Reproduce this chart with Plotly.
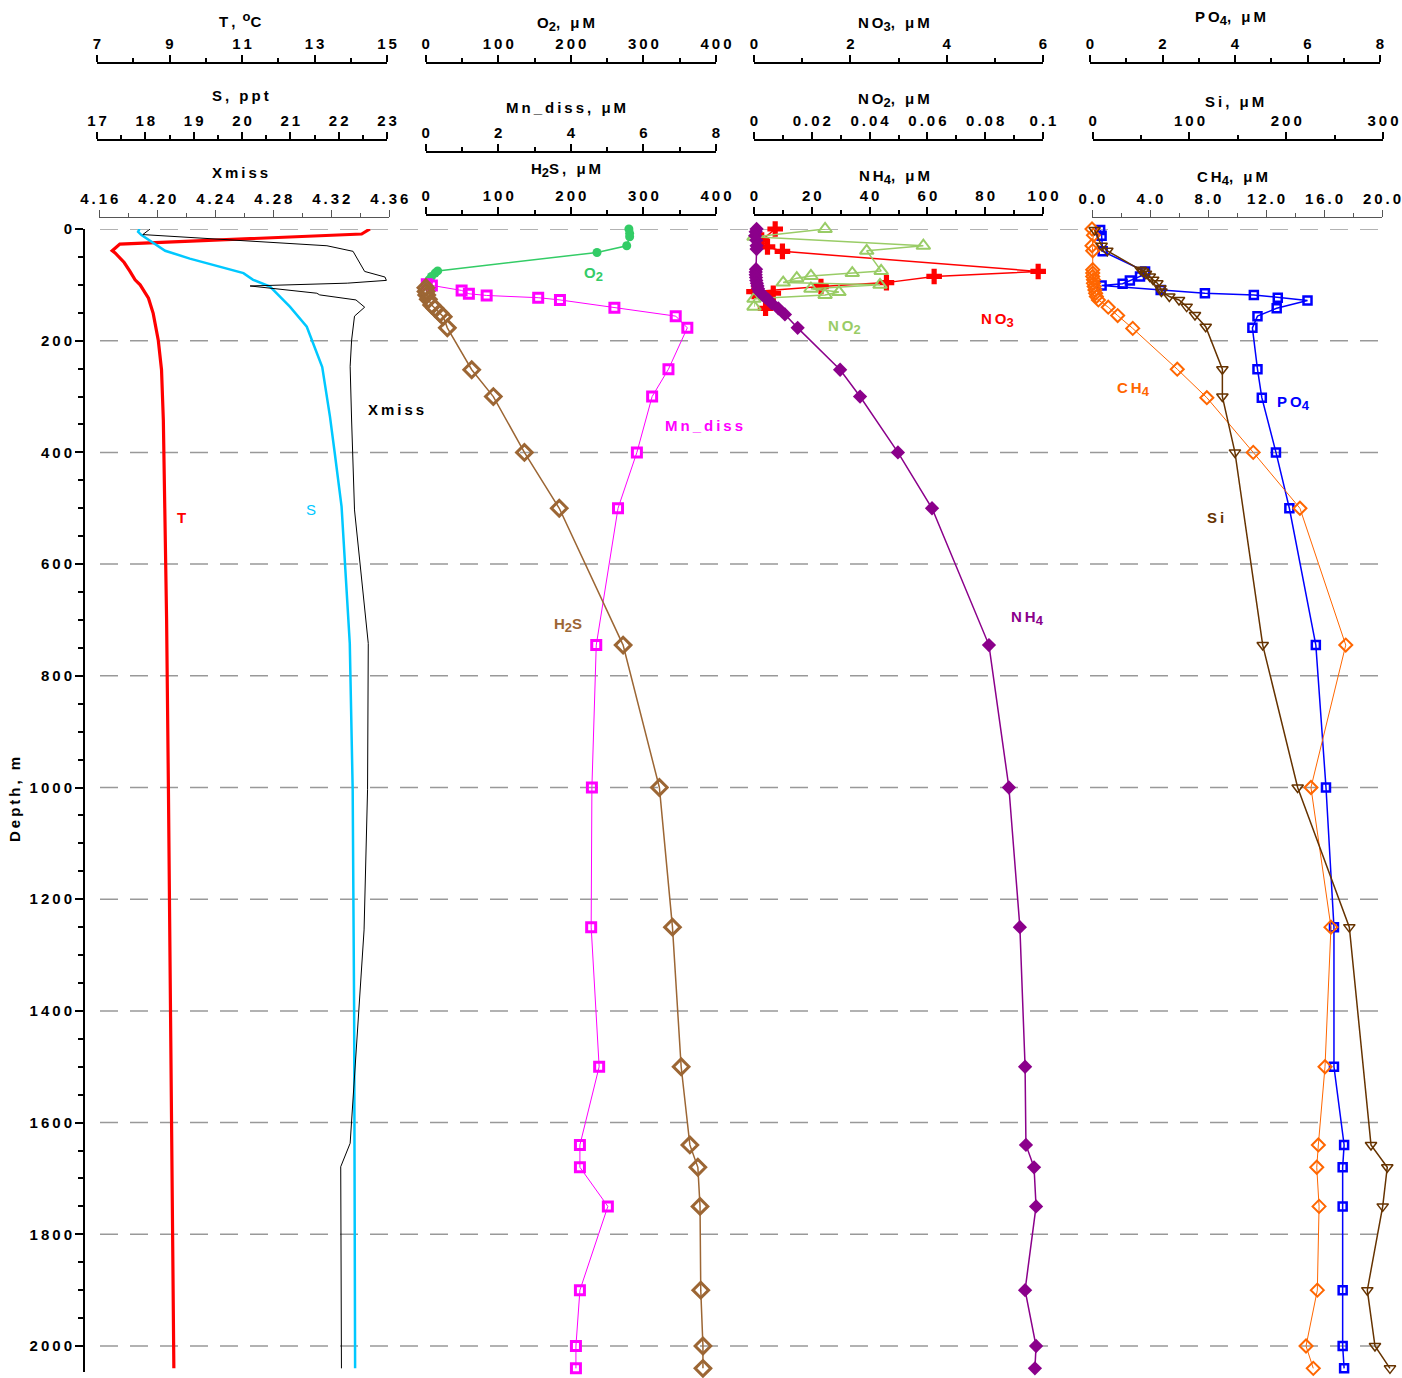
import plotly.graph_objects as go

# ------------------------- DATA -------------------------
T_depth = [0, 9, 27, 39, 43, 60, 76, 91, 100, 124, 151, 199, 252, 342, 500, 700, 1000, 1300, 1600, 1900, 2040]
T_val = [14.53, 14.30, 7.63, 7.42, 7.50, 7.75, 7.91, 8.05, 8.19, 8.42, 8.55, 8.69, 8.78, 8.83, 8.87, 8.92, 8.97, 9.02, 9.06, 9.10, 9.12]

S_depth = [0, 5, 11, 17, 39, 53, 79, 91, 103, 139, 175, 247, 336, 402, 497, 742, 1004, 1398, 2040]
S_val = [17.88, 17.85, 17.92, 18.03, 18.41, 18.92, 20.03, 20.23, 20.58, 20.99, 21.34, 21.66, 21.82, 21.92, 22.06, 22.23, 22.29, 22.32, 22.34]

Xmiss_depth = [0, 10, 30, 40, 76, 86, 92, 97, 102, 115, 118, 127, 140, 156, 199, 246, 342, 503, 742, 1004, 1255, 1637, 1679, 1900, 2040]
Xmiss_val = [4.195, 4.190, 4.317, 4.335, 4.343, 4.357, 4.358, 4.331, 4.264, 4.310, 4.312, 4.337, 4.343, 4.336, 4.334, 4.333, 4.334, 4.336, 4.3455, 4.345, 4.3426, 4.333, 4.3265, 4.3265, 4.327]

O2_depth = [0, 8, 14, 30, 42, 75, 79, 85, 91, 97]
O2_val = [280, 281, 281, 277, 236, 16.5, 13, 8, 4.5, 1.5]

Mn_depth = [99, 101, 110, 116, 119, 123, 127, 141, 156, 177, 251, 300, 400, 500, 745, 1000, 1250, 1500, 1640, 1680, 1750, 1900, 2000, 2040]
Mn_val = [0.03, 0.17, 0.99, 1.19, 1.68, 3.10, 3.70, 5.20, 6.89, 7.21, 6.69, 6.24, 5.82, 5.30, 4.70, 4.58, 4.56, 4.78, 4.25, 4.25, 5.02, 4.25, 4.14, 4.14]

H2S_depth = [105, 112, 118, 126, 136, 142, 151, 157, 177, 252, 300, 400, 500, 745, 1000, 1250, 1500, 1640, 1680, 1750, 1900, 2000, 2040]
H2S_val = [0.3, 0.5, 1.4, 3.6, 8.2, 12.8, 19.7, 24.2, 29.8, 63.4, 93.2, 136, 184, 272, 322, 340, 352, 364, 375, 378, 379, 382, 382]

NO3_depth = [0, 20, 32, 40, 76, 85, 96, 103, 112, 115, 142]
NO3_val = [0.44, 0.16, 0.28, 0.59, 5.90, 3.74, 2.75, 1.39, 0.0, 0.40, 0.24]

NO2_depth = [0, 14, 30, 39, 75, 79, 84, 88, 96, 100, 107, 113, 118, 125, 139]
NO2_val = [0.0246, 0.0, 0.0586, 0.039, 0.044, 0.034, 0.0197, 0.0148, 0.0101, 0.0436, 0.0197, 0.0294, 0.0246, 0.0, 0.0]

NH4_depth = [0, 5, 12, 20, 30, 36, 72, 77, 82, 87, 92, 97, 102, 107, 112, 117, 122, 127, 133, 142, 153, 177,
             252, 300, 400, 500, 745, 1000, 1250, 1500, 1640, 1680, 1750, 1900, 2000, 2040]
NH4_val = [0.9, 0.6, 0.4, 0.8, 0.9, 0.9, 0.7, 0.6, 0.6, 0.7, 0.8, 1.0, 1.2, 1.4, 1.8, 2.8, 3.8, 5.0, 6.1, 8.4, 10.7, 15.1,
           29.8, 36.7, 49.8, 61.6, 81.3, 88.2, 92.0, 93.8, 94.1, 96.9, 97.6, 93.8, 97.6, 97.2]

PO4_depth = [2, 12, 40, 76, 85, 92, 98, 101, 109, 115, 118, 123, 128, 142, 156, 177, 251, 302, 400, 500, 745,
             1000, 1250, 1500, 1640, 1680, 1750, 1900, 2000, 2040]
PO4_val = [0.28, 0.32, 0.35, 1.52, 1.38, 1.10, 0.90, 0.32, 1.95, 3.17, 4.52, 5.18, 6.00, 5.15, 4.62, 4.48, 4.62, 4.74, 5.13, 5.50, 6.23,
           6.51, 6.73, 6.73, 7.01, 6.97, 6.97, 6.97, 6.97, 7.01]

Si_depth = [2, 30, 39, 73, 76, 80, 85, 91, 97, 106, 112, 121, 127, 139, 154, 175, 251, 300, 400, 745,
            1000, 1250, 1640, 1680, 1750, 1900, 2000, 2040]
Si_val = [2, 9.2, 15.1, 49.6, 52, 55, 59, 62.5, 66.8, 70, 71, 79.2, 89.2, 97.1, 105.7, 116.8, 134, 134, 147, 175.7,
          211.8, 265.2, 287.6, 304.4, 299.7, 283.8, 291.7, 307.2]

CH4_depth = [0, 11, 30, 39, 73, 79, 85, 91, 97, 103, 109, 115, 121, 127, 140, 155, 178, 251, 302, 400, 500, 745,
             1000, 1250, 1500, 1640, 1680, 1750, 1900, 2000, 2040]
CH4_val = [0.0, 0.1, 0.0, 0.05, 0.05, 0.05, 0.05, 0.1, 0.1, 0.15, 0.2, 0.25, 0.3, 0.44, 1.12, 1.77, 2.81, 5.88, 7.92, 11.12, 14.34, 17.5,
           15.1, 16.48, 16.07, 15.61, 15.5, 15.66, 15.54, 14.76, 15.26]

# tick labels
depth_ticks = ['0', '200', '400', '600', '800', '1000', '1200', '1400', '1600', '1800', '2000']
T_ticks = ['7', '9', '11', '13', '15']
S_ticks = ['17', '18', '19', '20', '21', '22', '23']
Xmiss_ticks = ['4.16', '4.20', '4.24', '4.28', '4.32', '4.36']
O2_ticks = ['0', '100', '200', '300', '400']
Mn_ticks = ['0', '2', '4', '6', '8']
H2S_ticks = ['0', '100', '200', '300', '400']
NO3_ticks = ['0', '2', '4', '6']
NO2_ticks = ['0', '0.02', '0.04', '0.06', '0.08', '0.1']
NH4_ticks = ['0', '20', '40', '60', '80', '100']
PO4_ticks = ['0', '2', '4', '6', '8']
Si_ticks = ['0', '100', '200', '300']
CH4_ticks = ['0.0', '4.0', '8.0', '12.0', '16.0', '20.0']

# ------------------------- LAYOUT HELPERS -------------------------
W, H = 1402, 1378
ML, MR = 84, 0
def fx(px): return (px - ML) / (W - ML - MR)
def fy(py): return (H - py) / H

Y_TOP, Y_BOT = 229, 1372
PX_PER_M = (1346 - 229) / 2000.0
DEPTH_MAX = (Y_BOT - Y_TOP) / PX_PER_M

TS = '\u2009'
def sp(s): return TS.join(s)
def sub(s): return '<sub><span style="font-size:13px">' + s + '</span></sub>'
def sup(s): return '<sup><span style="font-size:13px">' + s + '</span></sup>'

FAM = 'Liberation Sans, Arial, sans-serif'
def bfont(size=15, color='black', weight='bold'):
    return dict(family=FAM, size=size, color=color, weight=weight)

fig = go.Figure()
layout = {}

def make_xaxis(key, px0, px1, rng, pos_py, labels, minor_dtick, thin=False, visible=True):
    vals = [float(v) for v in labels]
    col = '#555555' if thin else 'black'
    lw = 1 if thin else 2
    layout[key] = dict(
        domain=[fx(px0), fx(px1)], range=rng, anchor='free', position=fy(pos_py), side='top',
        visible=visible, showgrid=False, zeroline=False, showline=True, linecolor=col, linewidth=lw,
        ticks='outside', ticklen=7, tickwidth=lw, tickcolor=col,
        tickmode='array', tickvals=vals, ticktext=[sp(t) for t in labels],
        tickfont=bfont(15), automargin=False, fixedrange=True,
        minor=dict(ticks='outside', ticklen=4, tickwidth=lw, tickcolor=col, dtick=minor_dtick, tick0=rng[0], showgrid=False),
    )

make_xaxis('xaxis', 97, 387, [7, 15], 63, T_ticks, 1)
make_xaxis('xaxis2', 97, 387, [17, 23], 140, S_ticks, 0.5)
make_xaxis('xaxis3', 99.3, 389.3, [4.16, 4.36], 217, Xmiss_ticks, 0.02, thin=True)
make_xaxis('xaxis4', 425.7, 716, [0, 400], 63, O2_ticks, 50)
make_xaxis('xaxis5', 425.7, 716, [0, 8], 152, Mn_ticks, 1)
make_xaxis('xaxis6', 425.7, 716, [0, 400], 215, H2S_ticks, 50)
make_xaxis('xaxis7', 754, 1043, [0, 6], 63, NO3_ticks, 1)
make_xaxis('xaxis8', 754, 1043, [0, 0.1], 140, NO2_ticks, 0.01)
make_xaxis('xaxis9', 754, 1043, [0, 100], 215, NH4_ticks, 10)
make_xaxis('xaxis10', 1090, 1380, [0, 8], 63, PO4_ticks, 1)
make_xaxis('xaxis11', 1092.7, 1383, [0, 300], 140, Si_ticks, 50)
make_xaxis('xaxis12', 1092, 1382, [0, 20], 217, CH4_ticks, 2, thin=True)
# hidden plotting axis for Si (extends past 300 so deep points are not clipped)
si_scale = (1383 - 1092.7) / 300.0
layout['xaxis13'] = dict(domain=[fx(1092.7), 1.0], range=[0, (W - 1092.7) / si_scale],
                         anchor='free', position=fy(140), visible=False, fixedrange=True)

layout['yaxis'] = dict(
    domain=[fy(Y_BOT), fy(Y_TOP)], range=[DEPTH_MAX, 0], anchor='free', position=0, side='left',
    showgrid=False, zeroline=False, showline=True, linecolor='black', linewidth=2,
    ticks='outside', ticklen=8, tickwidth=2, tickcolor='black',
    tickmode='array', tickvals=[float(t) for t in depth_ticks], ticktext=[sp(t) for t in depth_ticks],
    tickfont=bfont(15), automargin=False, fixedrange=True,
    minor=dict(ticks='outside', ticklen=5, tickwidth=2, tickcolor='black', dtick=50, tick0=0, showgrid=False),
)

def add(x, y, xa, color, lw, symbol=None, msize=8, mlw=2):
    mode = 'lines' if symbol is None else 'lines+markers'
    kw = dict(x=x, y=y, xaxis=xa, yaxis='y', mode=mode, line=dict(color=color, width=lw),
              showlegend=False, cliponaxis=False, hoverinfo='skip')
    if symbol is not None:
        kw['marker'] = dict(symbol=symbol, size=msize, color=color,
                            line=dict(color=color, width=mlw))
    fig.add_trace(go.Scatter(**kw))

add(Xmiss_val, Xmiss_depth, 'x3', 'black', 1)
add(S_val, S_depth, 'x2', '#00C8FF', 2.5)
add(T_val, T_depth, 'x', '#FF0000', 3.2)

add(O2_val, O2_depth, 'x4', '#33CC66', 1.5, 'circle', 9, 0)
add(H2S_val, H2S_depth, 'x6', '#9C6634', 1.5, 'diamond-open', 12, 3)
add(Mn_val, Mn_depth, 'x5', '#FF00FF', 1, 'square-open', 9, 3)

add(NO2_val, NO2_depth, 'x8', '#99CC66', 1.5, 'triangle-up-open', 12, 2)
add(NO3_val, NO3_depth, 'x7', '#FF0000', 1.5, 'cross', 13, 0)
add(NH4_val, NH4_depth, 'x9', '#8B008B', 1.5, 'diamond', 11, 0)

add(CH4_val, CH4_depth, 'x12', '#FF6600', 1, 'diamond-open', 10, 2)
add(Si_val, Si_depth, 'x13', '#663300', 1.5, 'triangle-down-open', 10, 1.5)
add(PO4_val, PO4_depth, 'x10', '#0000FF', 1.5, 'square-open', 8, 2.5)
# dummy trace so the visible Si axis is drawn
fig.add_trace(go.Scatter(x=[None], y=[None], xaxis='x11', yaxis='y', showlegend=False, hoverinfo='skip'))

# dashed horizontal grid lines
shapes = []
for d in range(0, 2001, 200):
    shapes.append(dict(type='line', xref='paper', yref='y', x0=fx(100), x1=fx(1380), y0=d, y1=d,
                       line=dict(color='#999999', width=1.5, dash='18px,12px'), layer='below'))

ann = []
def label(px, py, text, color='black', size=15, weight='bold', angle=0):
    ann.append(dict(x=fx(px), y=fy(py), xref='paper', yref='paper', text=text, showarrow=False,
                    xanchor='center', yanchor='middle', textangle=angle, font=bfont(size, color, weight)))

MU = 'μ'
# axis titles
label(240, 20, sp('T,') + TS + ' ' + sup('o') + sp('C'))
label(240, 95, sp('S, ppt'))
label(240, 172, sp('Xmiss'))
label(566, 24, sp('O') + sub('2') + sp(', ' + MU + 'M'))
label(566, 107, sp('Mn_diss, ' + MU + 'M'))
label(566, 170, sp('H') + sub('2') + sp('S, ' + MU + 'M'))
label(894, 24, sp('NO') + sub('3') + sp(', ' + MU + 'M'))
label(894, 100, sp('NO') + sub('2') + sp(', ' + MU + 'M'))
label(894, 177, sp('NH') + sub('4') + sp(', ' + MU + 'M'))
label(1230, 18, sp('PO') + sub('4') + sp(', ' + MU + 'M'))
label(1234, 101, sp('Si, ' + MU + 'M'))
label(1232, 178, sp('CH') + sub('4') + sp(', ' + MU + 'M'))
label(14, 800, sp('Depth, m'), angle=-90)

# series labels
label(181, 517, 'T', '#FF0000')
label(311, 509, 'S', '#00C8FF', weight='normal')
label(396, 409, sp('Xmiss'), 'black')
label(593, 274, sp('O') + sub('2'), '#33CC66')
label(704, 425, sp('Mn_diss'), '#FF00FF')
label(568, 625, sp('H') + sub('2') + 'S', '#9C6634')
label(844, 327, sp('NO') + sub('2'), '#99CC66')
label(997, 320, sp('NO') + sub('3'), '#FF0000')
label(1027, 618, sp('NH') + sub('4'), '#8B008B')
label(1133, 389, sp('CH') + sub('4'), '#FF6600')
label(1293, 403, sp('PO') + sub('4'), '#0000FF')
label(1215, 517, sp('Si'), '#663300')

fig.update_layout(
    width=W, height=H, margin=dict(l=ML, r=MR, t=0, b=0, pad=0),
    paper_bgcolor='white', plot_bgcolor='rgba(0,0,0,0)',
    font=dict(family=FAM, size=15, color='black'),
    shapes=shapes, annotations=ann, showlegend=False, **layout,
)

fig.write_html('out.html')
